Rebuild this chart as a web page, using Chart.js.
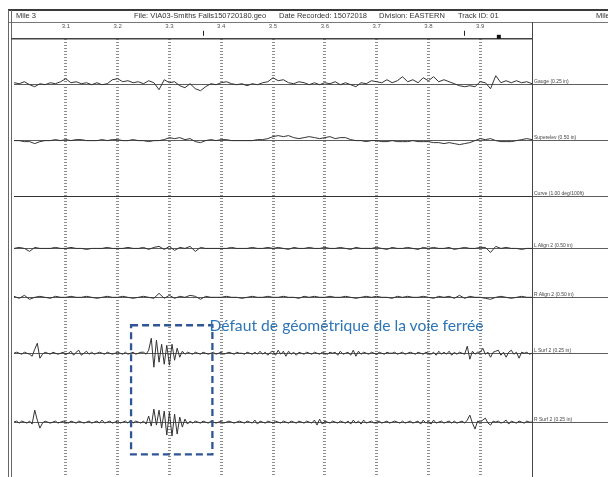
<!DOCTYPE html>
<html><head><meta charset="utf-8">
<script src="https://cdn.jsdelivr.net/npm/chart.js@4.4.0/dist/chart.umd.min.js"></script>
<style>
html,body{margin:0;padding:0;background:#fff;}
#wrap{position:relative;width:608px;height:477px;overflow:hidden;font-family:"Liberation Sans",Arial,sans-serif;}
#c{position:absolute;left:0;top:0;}
.t{position:absolute;white-space:nowrap;line-height:1;}
.hdr{font-size:7.5px;color:#333;top:12px;}
.lbl{font-size:5px;color:#444;}
#note{font-family:"Lato",sans-serif;font-size:15.7px;color:#2e75b6;}
</style></head><body>
<div id="wrap">
<canvas id="c" width="608" height="477"></canvas>
<div class="t hdr" style="left:16px">Mile 3</div>
<div class="t hdr" style="left:134px">File: VIA03-Smiths Falls150720180.geo</div>
<div class="t hdr" style="left:279px">Date Recorded: 15072018</div>
<div class="t hdr" style="left:379px">Division: EASTERN</div>
<div class="t hdr" style="left:458px">Track ID: 01</div>
<div class="t hdr" style="left:596px">Mile</div>
<div class="t" id="note">Défaut de géométrique de la voie ferrée</div>
</div>
<script>
// ---------- data ----------
const tickMiles = [3.0,3.1,3.2,3.3,3.4,3.5,3.6,3.7,3.8,3.9,4.0];
const tickLabels = ['','3.1','3.2','3.3','3.4','3.5','3.6','3.7','3.8','3.9',''];
// sampling positions along the track (miles)
const miles = Array.from({length:101},(_,i)=>Math.round((3+i*0.01)*1000)/1000);
const milesFine = Array.from({length:201},(_,i)=>Math.round((3+i*0.005)*10000)/10000);

const rowLabels = ['Gauge (0.25 in)','Superelev (0.50 in)','Curve (1.00 deg/100ft)','L Align 2 (0.50 in)','R Align 2 (0.50 in)','L Surf 2 (0.25 in)','R Surf 2 (0.25 in)'];
const rowUnits = [0.25,0.50,1.00,0.50,0.50,0.25,0.25];

// deviations in inches (curve in deg/100ft)
const gauge = [.05,.025,.075,0,-.05,.025,0,.05,.025,.075,
.15,.05,.075,.025,.05,0,.05,0,.025,.125,
.15,.075,.1,.05,.075,.025,.1,.05,-.125,.125,
.05,.075,-.025,-.075,.025,-.1,-.15,-.05,.025,0,
.05,.075,.025,0,.025,-.025,.025,0,.05,.075,
.175,.1,.125,.05,.025,.075,.05,0,.05,0,
.05,.025,.075,0,.05,0,-.05,.05,.025,.1,
.075,.05,.125,.05,.1,.2,.075,.125,.05,.175,
.1,.2,.075,.125,.075,.025,-.025,-.05,-.025,-.05,
.075,.05,-.1,.225,.05,.1,.05,.1,.05,.075,.025];
const superelev = [0,0,-.05,-.05,-.15,-.05,0,0,.05,0,
.05,0,.05,.05,0,0,0,.05,0,.05,
.05,0,0,.05,0,0,-.05,0,0,.05,
.15,.1,.15,.05,.1,-.05,-.1,0,.05,0,
.05,.05,0,0,0,0,0,.05,.05,.1,
.2,.25,.2,.25,.15,.1,.15,.2,.15,.1,
.15,.2,.1,.15,.15,.05,0,0,-.05,0,
0,-.05,-.05,0,-.05,-.05,-.05,0,-.05,-.05,
-.05,-.1,-.1,-.15,-.1,-.15,-.2,-.15,-.1,0,
.1,.05,.1,0,-.05,-.05,-.05,0,.05,.1,.05];
const curve = [0,0,0,0,0,0,0,0,0,0,0];
const lAlign = [0,.05,0,-.15,.05,0,0,0,.05,0,
0,.05,0,0,-.05,0,0,0,.05,0,
0,0,.05,0,0,.05,-.05,.05,.1,-.05,
.1,-.1,.05,0,.1,-.15,.05,0,0,0,
0,0,.05,0,0,0,.05,0,0,.05,
0,.05,0,-.05,.05,0,0,.05,0,0,
.05,0,0,.05,0,-.05,.05,0,0,0,
.05,0,-.05,.05,0,0,.05,0,-.05,.05,
0,.05,0,0,.05,-.05,0,.05,0,0,
.05,.05,-.2,.1,0,.05,0,0,-.05,0,0];
const rAlign = [.05,-.05,.1,-.1,0,.05,0,-.05,.05,0,
0,.05,0,0,.05,0,-.05,0,.05,0,
0,.05,0,-.05,0,.05,0,-.05,.2,-.05,
.1,-.05,.05,0,.1,.05,-.1,.05,0,0,
0,.05,0,0,-.05,0,.05,0,0,.05,
0,0,.05,0,0,-.05,.05,0,.05,0,
0,.05,0,0,.05,0,-.05,0,.05,0,
.05,0,0,-.05,.05,0,.05,0,0,.05,
0,-.05,.05,0,.05,-.05,.1,-.05,.05,0,
0,-.05,-.1,0,.05,0,-.05,0,.05,0,0];
const lSurf = [0,.025,0,-.025,.025,0,-.025,-.075,.1,.25,
-.125,-.025,.025,0,-.025,.025,0,-.025,0,.025,
-.025,0,.05,-.05,.025,.075,-.05,0,.05,-.025,
.025,-.025,0,.025,0,-.025,.025,0,-.025,0,
.025,0,-.025,.025,-.025,0,.025,-.025,0,.025,
.025,-.025,.075,.375,-.35,.325,-.225,.225,-.275,.2,
-.3,.225,-.175,.125,-.1,.05,-.025,.025,0,-.025,
.025,0,-.025,.025,0,-.025,0,.025,-.025,0,
.025,-.025,0,.025,0,-.025,.025,0,0,-.025,
.025,0,-.025,.025,-.025,.05,-.025,.025,-.05,.025,
.05,-.05,.075,-.025,.05,-.075,.05,-.025,.025,-.05,
.025,0,-.025,.025,0,-.025,.025,0,-.025,.025,
0,-.025,.025,0,.025,-.05,.05,-.025,0,.025,
-.05,.075,-.075,.05,-.025,.025,0,-.025,.025,0,
-.025,.025,0,-.025,.025,0,0,.025,-.025,0,
.025,-.025,0,.025,0,-.025,.025,0,-.025,.025,
0,-.025,.025,-.05,.05,-.025,.025,-.025,.05,-.05,
.025,-.025,.025,0,-.025,.175,-.15,.05,-.025,.025,
.025,.125,-.025,.025,-.1,.025,.05,.075,-.05,.025,
-.1,.025,.075,-.025,.025,-.125,.025,0,.025,-.025,0];
const rSurf = [0,.025,-.025,.025,0,-.025,.025,-.05,.3,.05,
-.15,-.025,.025,0,-.025,0,.025,-.025,0,.025,
0,-.025,.025,0,-.025,.025,0,-.025,0,.025,
-.025,0,.025,-.025,.05,-.025,0,.025,-.025,0,
.025,-.025,0,.025,-.025,.05,-.025,.025,0,-.025,
.025,-.05,.15,-.1,.325,-.075,.3,-.15,.275,-.325,
.25,-.35,.2,-.3,.125,-.125,.075,-.05,.025,-.025,
.025,0,-.025,.025,0,-.025,.025,0,-.025,0,
.025,-.025,0,.025,0,-.025,0,.025,0,-.025,
.025,0,-.025,.05,-.05,.025,0,-.025,.025,0,
-.025,.025,0,-.025,.025,0,-.025,.025,0,-.025,
.025,0,-.025,.025,0,-.025,.05,-.075,.075,-.05,
.025,0,-.025,.025,0,-.025,.025,0,-.025,.025,
-.05,.05,-.025,.025,-.05,.05,-.025,0,.025,-.025,
0,.025,-.025,0,.025,-.025,0,.025,0,-.025,
.025,-.025,0,.025,-.025,0,.025,-.05,.05,-.025,
.025,-.05,.05,-.025,0,.025,-.025,0,.025,-.025,
.025,-.025,0,.025,-.025,.05,.175,-.025,-.175,.025,
0,.05,.1,-.025,-.075,.025,0,.025,-.025,0,
.05,-.05,.025,0,-.025,.025,0,-.025,.025,0,0];

const markerMiles = [3.365, 3.869];
const blockMile = 3.936;
const defectBox = {from:3.226, to:3.383, topLSurf:0.70, bottomRSurf:-0.81};

// ---------- layout / style ----------
const rowIds = ['gauge','superelev','curve','lalign','ralign','lsurf','rsurf'];
const rowSeries = [gauge, superelev, curve, lAlign, rAlign, lSurf, rSurf];
const rowX = [miles, miles, tickMiles, miles, miles, milesFine, milesFine];
const rowBandPx = [56,56,56,48,50,62,76];
const padTopPx = 18, padBottomPx = 15;
const plotLeft = 14, mile4Px = 532, canvasW = 608;
const xMax = 3 + (canvasW - plotLeft) / (mile4Px - plotLeft);

const scales = {
  x: {type:'linear', position:'top', min:3, max:xMax,
      afterBuildTicks: s => { s.ticks = tickMiles.map(v => ({value:v})); },
      ticks:{padding:8.8, autoSkip:false, maxRotation:0, color:'#555',
             font:{size:6, family:'Liberation Sans'}, callback:(v,i)=>tickLabels[i]},
      grid:{drawTicks:false, lineWidth:3,
            color: c => (c.index>0 && c.index<tickMiles.length-1) ? '#8d8d8d' : 'rgba(0,0,0,0)'},
      border:{display:false, dash:[1,2]}},
  padTop:{type:'linear', position:'right', stack:'rows', stackWeight:padTopPx, weight:0, display:false, min:0, max:1}
};
rowIds.forEach((id,k)=>{
  const half = rowBandPx[k]/2 * rowUnits[k]/10;
  scales[id] = {type:'linear', position:'right', stack:'rows', stackWeight:rowBandPx[k], weight:k+1,
    min:-half, max:half,
    afterBuildTicks: s => { s.ticks = [{value:0}]; },
    ticks:{display:false}, grid:{drawTicks:false, color:'#5e5e5e', lineWidth:1}, border:{display:false}};
});
scales.padBottom = {type:'linear', position:'right', stack:'rows', stackWeight:padBottomPx, weight:9, display:false, min:0, max:1};

const datasets = rowIds.map((id,k)=>({
  label: rowLabels[k], yAxisID:id, xAxisID:'x',
  data: rowSeries[k].map((v,i)=>({x:rowX[k][i], y:v})),
  borderColor:'#333', borderWidth:1, pointRadius:0, tension:0, fill:false
}));

const framePlugin = {
  id:'frame',
  afterDraw(chart){
    const {ctx, chartArea:a, scales:s} = chart;
    const x4 = Math.round(s.x.getPixelForValue(4.0)) + 0.5;
    const ln = (x1,y1,x2,y2,w,c) => { ctx.beginPath(); ctx.lineWidth=w; ctx.strokeStyle=c; ctx.moveTo(x1,y1); ctx.lineTo(x2,y2); ctx.stroke(); };
    ctx.save();
    ln(8,10,608,10,2,'#3a3a3a');
    ln(8,22.5,608,22.5,1,'#777');
    ln(8.5,10,8.5,477,1,'#666');
    ln(11.5,10,11.5,477,1,'#666');
    ln(11,a.top,x4,a.top,1.5,'#444');
    ln(x4,22,x4,477,1,'#444');
    // position markers
    markerMiles.forEach(m=>{ const px=Math.round(s.x.getPixelForValue(m))+0.5; ln(px,a.top-8,px,a.top-3,1,'#222'); });
    const bx = s.x.getPixelForValue(blockMile);
    ctx.fillStyle='#111'; ctx.fillRect(bx-2,a.top-4,4,4);
    // defect box
    const x1=s.x.getPixelForValue(defectBox.from), x2=s.x.getPixelForValue(defectBox.to);
    const y1=s.lsurf.getPixelForValue(defectBox.topLSurf), y2=s.rsurf.getPixelForValue(defectBox.bottomRSurf);
    ctx.setLineDash([7,4]); ctx.lineWidth=2.3; ctx.strokeStyle='#2f5597';
    ctx.strokeRect(x1,y1,x2-x1,y2-y1);
    ctx.restore();
  }
};

const chart = new Chart(document.getElementById('c'), {
  type:'line',
  data:{datasets},
  options:{responsive:false, animation:false, devicePixelRatio:1,
    layout:{padding:{top:14,left:plotLeft,right:0,bottom:2}},
    plugins:{legend:{display:false}, tooltip:{enabled:false}},
    scales},
  plugins:[framePlugin]
});

// row labels and annotation text, placed from the scales
const wrap = document.getElementById('wrap');
rowIds.forEach((id,k)=>{
  const y = chart.scales[id].getPixelForValue(0);
  const d = document.createElement('div');
  d.className='t lbl'; d.textContent=rowLabels[k];
  d.style.left = (chart.scales.x.getPixelForValue(4.0)+2)+'px';
  d.style.top = (y-5.5)+'px';
  wrap.appendChild(d);
});
const note = document.getElementById('note');
note.style.left = (chart.scales.x.getPixelForValue(defectBox.to)-3)+'px';
note.style.top = (chart.scales.lsurf.getPixelForValue(defectBox.topLSurf)-7.5)+'px';
</script>
</body></html>
